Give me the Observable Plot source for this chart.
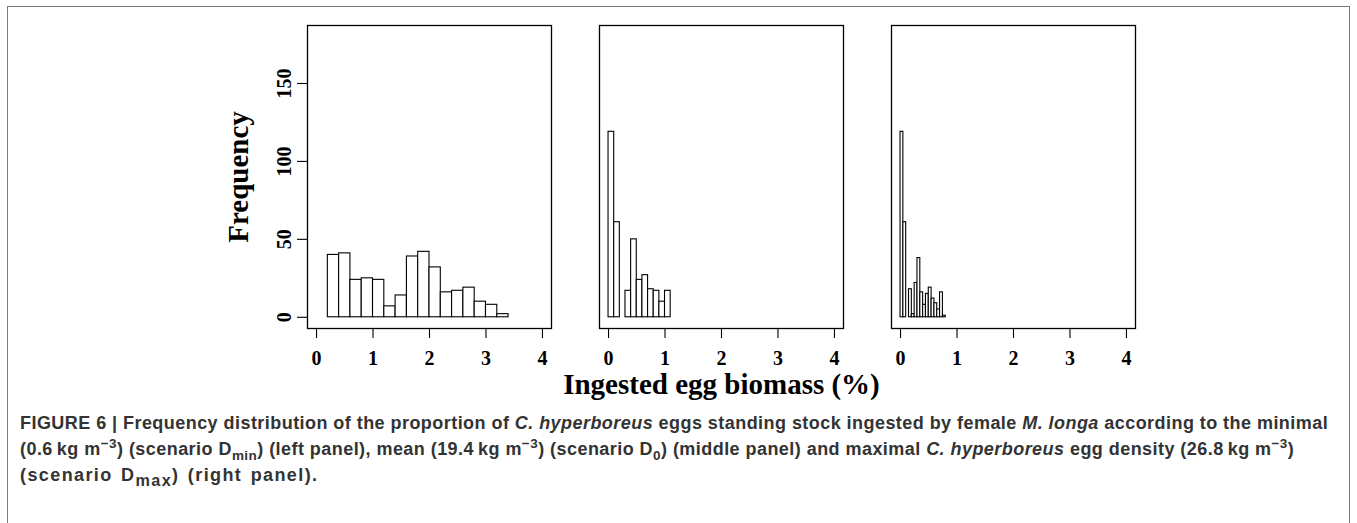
<!DOCTYPE html>
<html><head><meta charset="utf-8">
<script src="https://cdn.jsdelivr.net/npm/d3@7"></script>
<script src="https://cdn.jsdelivr.net/npm/@observablehq/plot@0.6"></script>
<style>
body{margin:0;background:#fff;}
#wrap{position:relative;width:1357px;height:523px;overflow:hidden;background:#fff;}
#frame{position:absolute;left:7px;top:6px;width:1341px;height:530px;border:1.5px solid #7a7a7a;}
#chart{position:absolute;left:0;top:0;}
#caption{position:absolute;left:20px;top:410px;font-family:"Liberation Sans",Arial,sans-serif;font-weight:bold;font-size:18px;letter-spacing:0.45px;line-height:26px;color:#333;white-space:nowrap;}
#caption sup,#caption sub{font-size:0.75em;line-height:0;}
#caption .l3{letter-spacing:1.4px;word-spacing:2px;}
#caption .l3 sub{font-size:0.9em;}
</style></head>
<body><div id="wrap"><div id="frame"></div><div id="chart"></div>
<div id="caption">FIGURE 6 | Frequency distribution of the proportion of <i>C. hyperboreus</i> eggs standing stock ingested by female <i>M. longa</i> according to the minimal<br>(0.6&#8201;kg m<sup>−3</sup>) (scenario D<sub>min</sub>) (left panel), mean (19.4&#8201;kg m<sup>−3</sup>) (scenario D<sub>0</sub>) (middle panel) and maximal <i>C. hyperboreus</i> egg density (26.8&#8201;kg m<sup>−3</sup>)<br><span class="l3">(scenario D<sub>max</sub>) (right panel).</span></div>
</div>
<script>
const panels = ["Dmin", "D0", "Dmax"];
const binStart = [0.2, 0, 0];
const binWidth = [0.2, 0.1, 0.05];
const countsMin = [40, 41, 24, 25, 24, 7, 14, 39, 42, 32, 16, 17, 19, 10, 8, 2];
const countsMean = [119, 61, 0, 17, 50, 24, 27, 18, 17, 10, 17];
const countsMax = [119, 61, 0, 18, 2, 22, 38, 16, 8, 15, 19, 12, 9, 5, 16, 1];
const xTicks = [0, 1, 2, 3, 4];
const yTicks = [0, 50, 100, 150];
const xLabel = "Ingested egg biomass (%)";
const yLabel = "Frequency";

const series = [countsMin, countsMean, countsMax];
const bins = series.flatMap((counts, i) => counts.map((c, j) => ({
  panel: panels[i],
  x1: binStart[i] + j * binWidth[i],
  x2: binStart[i] + (j + 1) * binWidth[i],
  count: c
})));

const serif = "'Liberation Serif','Times New Roman',Times,serif";
const chart = Plot.plot({
  width: 1357, height: 410,
  marginTop: 25, marginBottom: 82, marginLeft: 307, marginRight: 221.3,
  style: {fontFamily: serif, fontWeight: "bold", fontSize: "20px", color: "black", background: "transparent"},
  fx: {domain: panels, paddingInner: 0.1654, paddingOuter: 0, axis: null, label: null},
  x: {domain: [-0.16, 4.16]},
  y: {domain: [-7.2, 187.2]},
  marks: [
    Plot.rect(bins, {x1: "x1", x2: "x2", y1: 0, y2: "count", fx: "panel", fill: "white", stroke: "black", strokeWidth: 1.1}),
    Plot.frame({stroke: "black", strokeWidth: 1.3}),
    Plot.axisX({ticks: xTicks, tickSize: 10, tickPadding: 12, tickFormat: d => String(d), fontSize: 20, fontWeight: "bold", label: null, strokeWidth: 1.1}),
    Plot.axisY({ticks: yTicks, tickSize: 10, tickFormat: () => "", label: null, strokeWidth: 1.1}),
    Plot.text(yTicks, {fx: () => panels[0], y: d => d, text: d => String(d), frameAnchor: "left", textAnchor: "middle", lineAnchor: "middle", dx: -23, rotate: -90, fontSize: 20, fontWeight: "bold"}),
    Plot.text([yLabel], {fx: () => panels[0], text: d => d, frameAnchor: "left", textAnchor: "middle", lineAnchor: "middle", dx: -69, rotate: -90, fontSize: 29, fontWeight: "bold"}),
    Plot.text([xLabel], {fx: () => panels[1], text: d => d, frameAnchor: "bottom", lineAnchor: "bottom", dy: 65, fontSize: 29, fontWeight: "bold"})
  ]
});
document.getElementById("chart").appendChild(chart);
</script>
</body></html>
